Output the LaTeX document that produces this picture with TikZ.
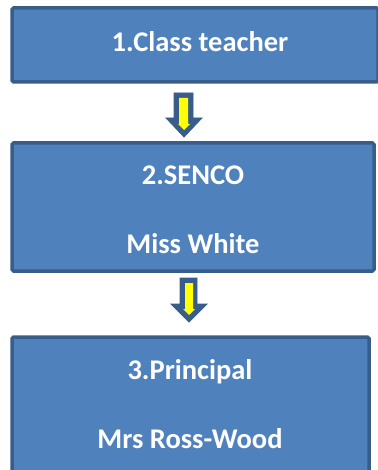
\documentclass[tikz,border=0pt]{standalone}
\usepackage{fontspec}
\setmainfont{Carlito}
\definecolor{boxfill}{HTML}{4F81BD}
\definecolor{boxline}{HTML}{385D8A}
\definecolor{arrowyel}{HTML}{FFFF00}
\begin{document}
\begin{tikzpicture}[x=1pt,y=-1pt,
  stagebox/.style={draw=boxline,fill=boxfill,line width=3.5pt,rounded corners=1.5pt},
  lbl/.style={text=white,font=\fontsize{28.5}{32}\selectfont\bfseries,inner sep=0pt,anchor=base},
  blockarrow/.style={draw=boxline,fill=boxline,line width=0.8pt,line join=miter},
  yelarrow/.style={fill=arrowyel,draw=none}]
\useasboundingbox (0,0) rectangle (377,470);
% boxes
\draw[stagebox] (12,8) rectangle (378,82);
\draw[stagebox] (12,143) rectangle (374,271);
\draw[stagebox] (12,337) rectangle (369,478);
% texts
\node[lbl] (t1) at (200,52) {1.Class teacher};
\node[lbl] (t2) at (193,185) {2.SENCO};
\node[lbl] (t3) at (193,253) {Miss White};
\node[lbl] (t4) at (190,379) {3.Principal};
\node[lbl] (t5) at (190,448) {Mrs Ross-Wood};
% arrow 1
\draw[blockarrow] (174,93) -- (193,93) -- (193,118) -- (202,118) -- (184,137) -- (166,118) -- (174,118) -- cycle;
\fill[yelarrow] (179,98) -- (188,98) -- (188,124) -- (190,124) -- (184,130) -- (178,124) -- (179,124) -- cycle;
% arrow 2
\draw[blockarrow] (180,278) -- (197,278) -- (197,304) -- (207,304) -- (189,322) -- (171,304) -- (180,304) -- cycle;
\fill[yelarrow] (185,283) -- (193,283) -- (193,309) -- (195,309) -- (189,315) -- (183,309) -- (185,309) -- cycle;
\end{tikzpicture}
\end{document}
